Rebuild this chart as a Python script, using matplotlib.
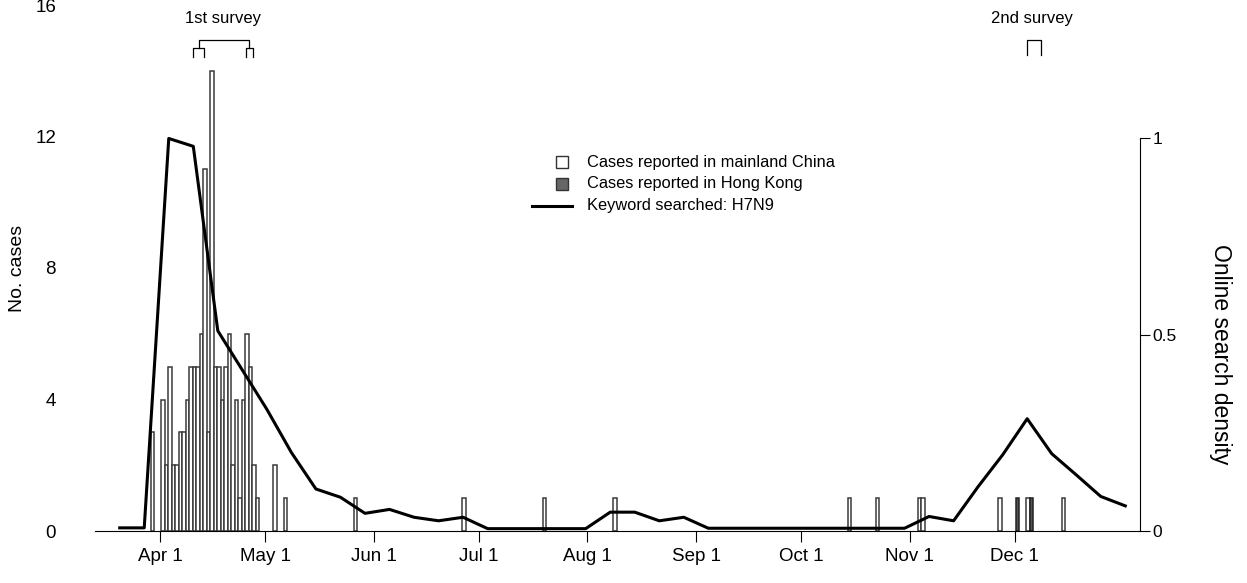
import matplotlib
matplotlib.use("Agg")
import matplotlib.pyplot as plt
from matplotlib.lines import Line2D
from matplotlib.patches import Rectangle
import numpy as np
import pandas as pd

plt.rcParams['font.family'] = ['Liberation Sans', 'DejaVu Sans']

# ---- data ----
origin = pd.Timestamp('2013-04-01')

mainland_dates = ['2013-03-29'] + [str(d.date()) for d in pd.date_range('2013-04-01', '2013-04-28')] + \
    ['2013-05-03', '2013-05-06', '2013-05-26', '2013-06-26', '2013-07-19', '2013-08-08',
     '2013-10-14', '2013-10-22', '2013-11-03', '2013-11-04', '2013-11-26', '2013-12-04', '2013-12-14']
mainland_counts = [3,
                   4, 2, 5, 2, 2, 3, 3, 4, 5, 5, 5, 6, 11, 3, 14, 5, 5, 4, 5, 6, 2, 4, 1, 4, 6, 5, 2, 1,
                   2, 1, 1, 1, 1, 1,
                   1, 1, 1, 1, 1, 1, 1]

hk_dates = ['2013-12-01', '2013-12-05']
hk_counts = [1, 1]

# weekly search density (week mid-points)
week_start = pd.date_range('2013-03-17', periods=42, freq='7D')
search_density = [0.008, 0.008, 1.0, 0.98, 0.51, 0.41, 0.31, 0.20, 0.107, 0.086,
                  0.045, 0.055, 0.035, 0.026, 0.035, 0.006, 0.006, 0.006, 0.006, 0.006,
                  0.048, 0.048, 0.026, 0.035, 0.007, 0.007, 0.007, 0.007, 0.007, 0.007,
                  0.007, 0.007, 0.007, 0.037, 0.026, 0.113, 0.194, 0.286, 0.197, 0.143,
                  0.088, 0.064]

month_ticks = ['2013-04-01', '2013-05-01', '2013-06-01', '2013-07-01', '2013-08-01',
               '2013-09-01', '2013-10-01', '2013-11-01', '2013-12-01']
month_labels = ['Apr 1', 'May 1', 'Jun 1', 'Jul 1', 'Aug 1', 'Sep 1', 'Oct 1', 'Nov 1', 'Dec 1']

survey1 = [('2013-04-10', '2013-04-13'), ('2013-04-25', '2013-04-27')]
survey2 = [('2013-12-04', '2013-12-08')]


def days(s):
    return (pd.to_datetime(s) - origin) / pd.Timedelta(days=1)


# ---- figure ----
W, H = 1247, 583
fig = plt.figure(figsize=(W / 100, H / 100), dpi=100)
AX_W = 1045
ax = fig.add_axes([95 / W, 52 / H, AX_W / W, 526 / H])

ax.bar(days(mainland_dates) + 0.3, mainland_counts, width=1.0, align='edge',
       facecolor='white', edgecolor='#3a3a3a', linewidth=1.1, zorder=2)
ax.bar(days(hk_dates) + 0.3, hk_counts, width=1.0, align='edge',
       facecolor='#555555', edgecolor='#222222', linewidth=1.1, zorder=2)

ax.set_xlim(-18.55, 279.7)
ax.set_ylim(0, 16)
ax.set_xticks(days(month_ticks))
ax.set_xticklabels(month_labels, fontsize=13.5)
ax.set_yticks([0, 4, 8, 12, 16])
ax.tick_params(axis='y', length=0, pad=28, labelsize=13.5)
ax.tick_params(axis='x', direction='out', length=8, width=0.8, pad=4)
for s in ['top', 'right', 'left']:
    ax.spines[s].set_visible(False)
ax.spines['bottom'].set_linewidth(0.8)
ax.set_ylabel('No. cases', fontsize=14)
ax.yaxis.set_label_coords(-69 / AX_W, 0.5)

# right axis: online search density
ax2 = ax.twinx()
ax2.set_position(ax.get_position())
ax2.plot(days(week_start) + 3.5, search_density, color='black', lw=2.2, zorder=3)
ax2.set_ylim(0, 16 / 11.94)
ax2.set_yticks([0, 0.5, 1])
ax2.set_yticklabels(['0', '0.5', '1'])
ax2.tick_params(axis='y', direction='out', length=7, width=0.8, pad=2, labelsize=12.5)
for s in ['top', 'left', 'bottom']:
    ax2.spines[s].set_visible(False)
ax2.spines['right'].set_bounds(0, 1)
ax2.spines['right'].set_linewidth(0.8)
ax2.set_ylabel('Online search density', fontsize=16.5, rotation=270)
ax2.yaxis.set_label_coords(1 + 92 / AX_W, 0.337)

# survey brackets
def cap(x0, x1, ytop, ybot):
    ax.plot([x0, x0, x1, x1], [ybot, ytop, ytop, ybot], color='black', lw=0.9, clip_on=False)

y_top, y_bot = 14.69, 14.43
mids = []
for a, b in survey1:
    x0, x1 = days(a) + 0.5, days(b) + 0.5
    cap(x0, x1, y_top, y_bot)
    mids.append((x0 + x1) / 2)
ax.plot([mids[0], mids[0], mids[1], mids[1]], [y_top, 14.94, 14.94, y_top], color='black',
        lw=0.9, clip_on=False)
ax.text(18.0, 15.6, '1st survey', ha='center', va='center', fontsize=12)

for a, b in survey2:
    x0, x1 = days(a) + 0.5, days(b) + 0.5
    cap(x0, x1, 14.94, 14.47)
ax.text(249.0, 15.6, '2nd survey', ha='center', va='center', fontsize=12)

# legend (drawn by hand)
def fx(px):
    return px / W

def fy(py):
    return 1 - py / H

fig.add_artist(Rectangle((fx(556), fy(168)), 12 / W, 12 / H, transform=fig.transFigure,
                         facecolor='white', edgecolor='#333333', lw=1.0))
fig.add_artist(Rectangle((fx(556), fy(190)), 12 / W, 12 / H, transform=fig.transFigure,
                         facecolor='#666666', edgecolor='#333333', lw=1.0))
fig.add_artist(Line2D([fx(532), fx(572)], [fy(206), fy(206)], transform=fig.transFigure,
                      color='black', lw=2.2))
for py, txt in [(162, 'Cases reported in mainland China'),
                (184, 'Cases reported in Hong Kong'),
                (206, 'Keyword searched: H7N9')]:
    fig.text(fx(587), fy(py), txt, ha='left', va='center', fontsize=11.8)

fig.savefig('out.png', dpi=100)
